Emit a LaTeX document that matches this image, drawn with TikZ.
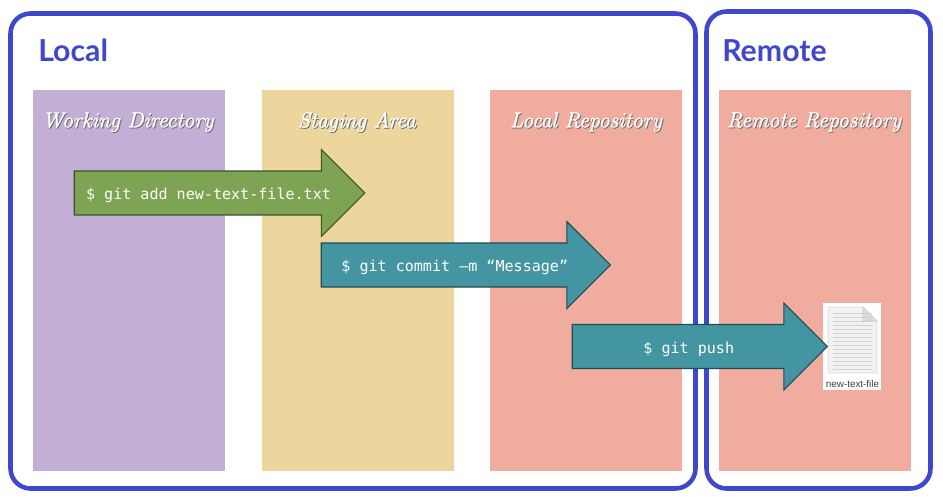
\documentclass[tikz,border=0pt]{standalone}
\usepackage{fontspec}
\usepackage{tikz}
\usetikzlibrary{shapes.arrows}
\setmainfont{Liberation Sans}
\newfontfamily\headfont{Lato}
\newfontfamily\cmdfont{DejaVu Sans Mono}
\newfontfamily\coltitlefont[ItalicFeatures={FakeBold=1.5}]{Latin Modern Roman}
\definecolor{frameblue}{HTML}{3F48CC}
\definecolor{workpurple}{HTML}{C3AED6}
\definecolor{stageyellow}{HTML}{EDD69E}
\definecolor{reposalmon}{HTML}{F0AD9F}
\definecolor{addgreen}{HTML}{7DA453}
\definecolor{pushteal}{HTML}{4495A2}
\tikzset{
    regionbox/.style={draw=frameblue,line width=3.4pt,rounded corners=15pt,minimum height=356.25pt},
    regionname/.style={anchor=base west,inner sep=0pt,text=frameblue,font=\headfont\bfseries\fontsize{22.7}{26}\selectfont},
    columnbox/.style={rectangle,minimum width=144pt,minimum height=285.75pt,inner sep=0pt},
    columnname/.style={inner sep=0pt,text=white,font=\coltitlefont\itshape\fontsize{16.3}{20}\selectfont},
    columnshade/.style={inner sep=0pt,text=black!55,font=\coltitlefont\itshape\fontsize{16.3}{20}\selectfont},
    gitarrow/.style={single arrow,single arrow head extend=16.1pt,single arrow tip angle=90,
        minimum width=64.5pt,inner xsep=0pt,inner ysep=8pt,line width=0.8pt,text height=13pt,text depth=3.2pt,
        text=white,font=\cmdfont\fontsize{11.3}{14}\selectfont}
}
\begin{document}
\begin{tikzpicture}[x=0.75pt,y=-0.75pt]
            \useasboundingbox (0,0) rectangle (943,503);
            %
            \node[regionbox,minimum width=513.75pt] (localbox) at (353,251) {};
            \node[regionbox,minimum width=168pt,minimum height=357.75pt] (remotebox) at (818.5,250) {};
            \node[regionname] (localname) at (38,62) {Local};
            \node[regionname] (remotename) at (722,62) {Remote};
            %
            \node[columnbox,fill=workpurple] (workcol) at (129,280.5) {};
            \node[columnbox,fill=stageyellow] (stagecol) at (357.5,280.5) {};
            \node[columnbox,fill=reposalmon] (localcol) at (586,280.5) {};
            \node[columnbox,fill=reposalmon] (remotecol) at (814.5,280.5) {};
            %
            \node[columnshade] (workshade) at (129,123) {Working Directory};
            \node[columnname] (workname) at (128,122) {Working Directory};
            \node[columnshade] (stageshade) at (358,123) {Staging Area};
            \node[columnname] (stagename) at (357,122) {Staging Area};
            \node[columnshade] (localshade) at (587,123) {Local Repository};
            \node[columnname] (localrepo) at (586,122) {Local Repository};
            \node[columnshade] (remoteshade) at (815,123) {Remote Repository};
            \node[columnname] (remoterepo) at (814,122) {Remote Repository};
            %
            \node[rectangle,fill=white,minimum width=43.5pt,minimum height=65.25pt,inner sep=0pt] (fileicon) at (852,346.5) {};
            \filldraw[fill=black!5,draw=black!15,line width=0.4pt]
                (828,307) -- (863,307) -- (877,321) -- (877,373) -- (828,373) -- cycle;
            \filldraw[fill=black!15,draw=black!20,line width=0.4pt] (863,307) -- (863,321) -- (877,321) -- cycle;
            \foreach \yline in {313,317,...,369}
                \draw[black!18,line width=0.4pt] (833,\yline) -- (872,\yline);
            \node[inner sep=0pt,text=black!75,font=\fontsize{7.4}{8}\selectfont] (filename) at (852.5,384) {new-text-file};
            %
            \node[gitarrow,fill=addgreen,draw=addgreen!50!black,minimum height=217.9pt] (addarrow) at (208.5,193) {\$ git add new-text-file.txt};
            \node[gitarrow,fill=pushteal,draw=pushteal!50!black,minimum height=216.75pt] (commitarrow) at (454.75,265) {\$ git commit –m “Message”};
            \node[gitarrow,fill=pushteal,draw=pushteal!50!black,minimum height=191.25pt] (pusharrow) at (688.75,346.5) {\$ git push};
        \end{tikzpicture}
\end{document}
